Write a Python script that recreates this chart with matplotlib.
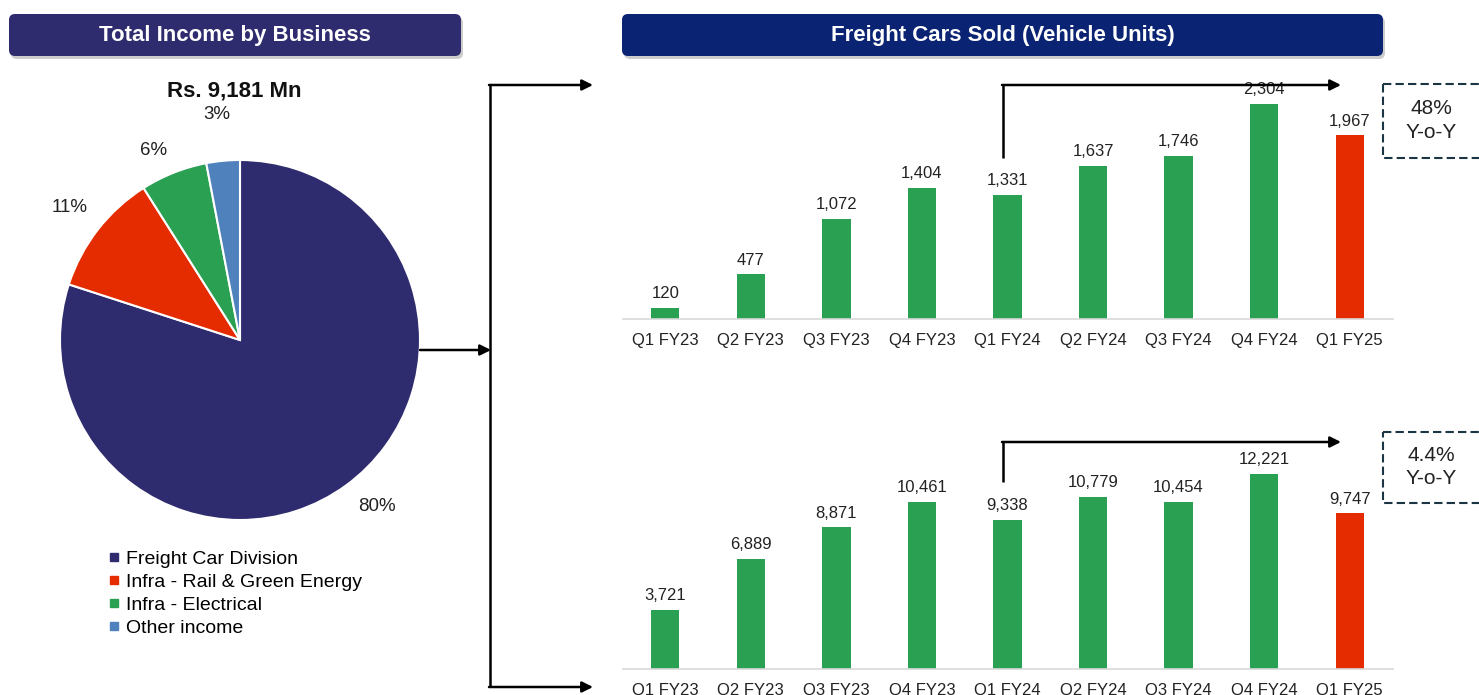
import numpy as np
import matplotlib.pyplot as plt
from matplotlib.patches import FancyBboxPatch, Rectangle
from matplotlib.lines import Line2D

plt.rcParams['font.family'] = ['Liberation Sans', 'DejaVu Sans']

# pie data
segments = ["Freight Car Division", "Infra - Rail & Green Energy", "Infra - Electrical", "Other income"]
shares = [80, 11, 6, 3]
seg_colors = ["#2E2C6E", "#E52B00", "#2AA052", "#4F81BD"]

# bar data
quarters = ["Q1 FY23", "Q2 FY23", "Q3 FY23", "Q4 FY23", "Q1 FY24", "Q2 FY24", "Q3 FY24", "Q4 FY24", "Q1 FY25"]
units_top = [120, 477, 1072, 1404, 1331, 1637, 1746, 2304, 1967]
units_bottom = [3721, 6889, 8871, 10461, 9338, 10779, 10454, 12221, 9747]
bar_colors = ["#2AA052"] * 8 + ["#E52B00"]

W, H = 1479, 695
fig = plt.figure(figsize=(W / 100, H / 100), dpi=100)


def px_axes(x0, y0, x1, y1):
    return fig.add_axes([x0 / W, (H - y1) / H, (x1 - x0) / W, (y1 - y0) / H])


# pie
pax = px_axes(60, 160, 420, 520)
wedges, _ = pax.pie(shares, colors=seg_colors, startangle=90, counterclock=False,
                    wedgeprops=dict(edgecolor="white", linewidth=1.5))
# label placement: distance from centre and small angle nudge, per slice
label_dist = [1.2, 1.2, 1.16, 1.26]
label_nudge = [3.5, 0.0, 3.0, 0.5]
for w, s, d, n in zip(wedges, shares, label_dist, label_nudge):
    ang = np.deg2rad((w.theta1 + w.theta2) / 2 + n)
    pax.text(d * np.cos(ang), d * np.sin(ang), f"{s}%", fontsize=13.5, color="#222222",
             ha="center", va="center")
pax.set_xlim(-1, 1)
pax.set_ylim(-1, 1)

handles = [Line2D([], [], marker="s", ls="", color=c, markersize=5.5) for c in seg_colors]
fig.legend(handles, segments, loc="upper left", bbox_to_anchor=(108 / W, 1 - 550 / H),
           frameon=False, fontsize=14, handlelength=0.6, handletextpad=0.35,
           labelspacing=0.28, borderpad=0, borderaxespad=0)


def bar_panel(ax, vals, ymax):
    bars = ax.bar(range(len(quarters)), vals, width=0.33, color=bar_colors)
    ax.bar_label(bars, labels=[f"{v:,}" for v in vals], padding=5, fontsize=12, color="#222222")
    ax.set_xlim(-0.5, len(quarters) - 0.5)
    ax.set_ylim(0, ymax)
    ax.set_xticks(range(len(quarters)))
    ax.set_xticklabels(quarters, fontsize=12, color="#222222")
    ax.tick_params(axis="x", length=0, pad=10)
    ax.set_yticks([])
    for s in ["top", "right", "left"]:
        ax.spines[s].set_visible(False)
    ax.spines["bottom"].set_color("#D9D9D9")
    ax.spines["bottom"].set_linewidth(1.2)
    ax.patch.set_alpha(0)


ax1 = px_axes(622.5, 85, 1392.5, 319)
bar_panel(ax1, units_top, 2508)
ax2 = px_axes(622.5, 440, 1392.5, 669)
bar_panel(ax2, units_bottom, 14352)

# overlay for headers, arrows and boxes
ov = fig.add_axes([0, 0, 1, 1])
ov.set_xlim(0, W)
ov.set_ylim(H, 0)
ov.axis("off")
ov.patch.set_alpha(0)


def header(x0, x1, color, text):
    ov.add_patch(FancyBboxPatch((x0 + 2, 17), x1 - x0, 42, boxstyle="round,pad=0,rounding_size=6",
                                fc="#9A9A9A", ec="none", alpha=0.5))
    ov.add_patch(FancyBboxPatch((x0, 14), x1 - x0, 42, boxstyle="round,pad=0,rounding_size=6",
                                fc=color, ec="none"))
    ov.text((x0 + x1) / 2, 35, text, color="white", fontsize=16, fontweight="bold",
            ha="center", va="center")


header(9, 461, "#2E2C6E", "Total Income by Business")
header(622, 1383, "#0A2372", "Freight Cars Sold (Vehicle Units)")
ov.text(234, 91, "Rs. 9,181 Mn", fontsize=16, fontweight="bold", ha="center", va="center",
        color="#111111")

arrow = dict(arrowstyle="-|>", mutation_scale=16, lw=1.8, color="black", shrinkA=0, shrinkB=0)
ov.annotate("", xy=(491, 350), xytext=(420, 350), arrowprops=arrow)
ov.plot([490, 490], [85, 687], color="black", lw=1.8, solid_capstyle="butt")
ov.annotate("", xy=(593, 85), xytext=(489, 85), arrowprops=arrow)
ov.annotate("", xy=(593, 687), xytext=(489, 687), arrowprops=arrow)

# y-o-y connectors
for y0, y1 in [(158, 85), (482, 442)]:
    ov.plot([1003, 1003], [y0, y1], color="black", lw=1.8, solid_capstyle="butt")
    ov.annotate("", xy=(1341, y1), xytext=(1002, y1), arrowprops=arrow)

for y0, y1, pct in [(84, 158, "48%"), (432, 503, "4.4%")]:
    ov.add_patch(Rectangle((1383, y0), 110, y1 - y0, fill=False, ec="#1C3545", lw=1.5,
                           ls=(0, (4, 2)), clip_on=False))
    ov.text(1431, y0 + (y1 - y0) * 0.33, pct, fontsize=15, ha="center", va="center", color="#222222")
    ov.text(1431, y0 + (y1 - y0) * 0.66, "Y-o-Y", fontsize=15, ha="center", va="center", color="#222222")

fig.savefig("out.png", dpi=100)
